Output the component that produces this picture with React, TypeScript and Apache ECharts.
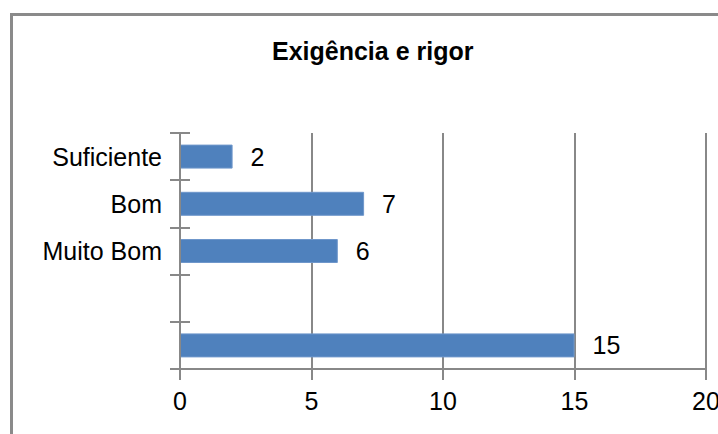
import React, { useEffect, useRef } from "react";
import * as echarts from "echarts";

const titleText = "Exigência e rigor";
const categories = ["", " ", "Muito Bom", "Bom", "Suficiente"];
const values: (number | null)[] = [15, null, 6, 7, 2];
const xMin = 0;
const xMax = 20;
const xInterval = 5;

export default function App() {
  const ref = useRef<HTMLDivElement>(null);
  useEffect(() => {
    if (!ref.current) return;
    const chart = echarts.init(ref.current, null, { renderer: "svg" });
    const font = "'Liberation Sans', Arial, sans-serif";
    const gray = "#888888";
    chart.setOption({
      animation: false,
      backgroundColor: "#ffffff",
      title: {
        text: titleText,
        left: 267,
        top: 33,
        textStyle: { fontFamily: font, fontSize: 25, fontWeight: "bold", color: "#000" },
      },
      graphic: [
        {
          type: "rect",
          shape: { x: 11.5, y: 14.5, width: 800, height: 500 },
          style: { fill: "none", stroke: "#8a8a8a", lineWidth: 3 },
          z: 100,
        },
      ],
      grid: {
        left: 180,
        right: 12,
        top: 133,
        bottom: 65,
        containLabel: false,
        outerBoundsMode: "none",
      },
      xAxis: {
        type: "value",
        min: xMin,
        max: xMax,
        interval: xInterval,
        axisLine: { show: true, lineStyle: { color: gray, width: 2 } },
        axisTick: { show: true, length: 11, lineStyle: { color: gray, width: 2 } },
        splitLine: { show: true, lineStyle: { color: gray, width: 2 } },
        axisLabel: { fontFamily: font, fontSize: 25, color: "#000", margin: 19 },
      },
      yAxis: [
        {
          type: "category",
          data: categories,
          axisLine: { show: true, lineStyle: { color: gray, width: 2 } },
          axisTick: { show: true, length: 10, lineStyle: { color: gray, width: 2 } },
          axisLabel: { fontFamily: font, fontSize: 25, color: "#000", margin: 18 },
          z: 10,
        },
        {
          type: "category",
          data: categories,
          position: "left",
          axisLine: { show: false },
          axisTick: { show: true, inside: true, length: 10, lineStyle: { color: gray, width: 2 } },
          axisLabel: { show: false },
          splitLine: { show: false },
        },
      ],
      series: [
        {
          type: "bar",
          data: values,
          yAxisIndex: 0,
          barWidth: 24,
          itemStyle: { color: "#4F81BD", borderColor: "#6f97cb", borderWidth: 1 },
          label: {
            show: true,
            position: "right",
            distance: 18,
            fontFamily: font,
            fontSize: 25,
            color: "#000",
          },
        },
      ],
    });
    return () => chart.dispose();
  }, []);
  return (
    <div
      ref={ref}
      style={{ position: "fixed", left: 0, top: 0, width: 718, height: 434 }}
    />
  );
}
